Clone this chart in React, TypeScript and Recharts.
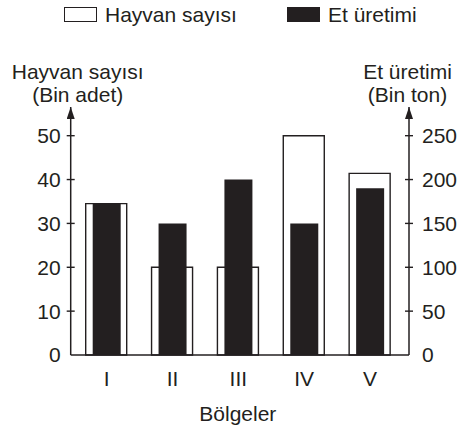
import React from "react";
import { BarChart, Bar, XAxis, YAxis } from "recharts";

const regions = ["I", "II", "III", "IV", "V"];
const hayvanSayisi = [34.5, 20, 20, 50, 41.4];
const etUretimi = [172.5, 150, 200, 150, 190];
const leftTicks = [0, 10, 20, 30, 40, 50];
const rightTicks = [0, 50, 100, 150, 200, 250];
const seriesNames = ["Hayvan sayısı", "Et üretimi"];

const INK = "#231f20";
const FONT = "'Liberation Sans', Arial, Helvetica, sans-serif";

const data = regions.map((r, i) => ({
  region: r,
  hayvan: hayvanSayisi[i],
  et: etUretimi[i],
}));

const LeftTick = ({ x, y, payload }: any) => (
  <g>
    {payload.value !== 0 && (
      <line x1={x + 6} x2={x + 14} y1={y} y2={y} stroke={INK} strokeWidth={1.4} />
    )}
    <text x={x} y={y} dy="0.355em" textAnchor="end" fontSize={21} fill={INK} fontFamily={FONT}>
      {payload.value}
    </text>
  </g>
);

const RightTick = ({ x, y, payload }: any) => (
  <g>
    {payload.value !== 0 && (
      <line x1={x - 17} x2={x - 9} y1={y} y2={y} stroke={INK} strokeWidth={1.4} />
    )}
    <text x={x} y={y} dy="0.355em" textAnchor="start" fontSize={21} fill={INK} fontFamily={FONT}>
      {payload.value}
    </text>
  </g>
);

const leftTitle = (props: any) => {
  const vb = props.viewBox;
  const cx = vb.x + vb.width + 7;
  return (
    <text textAnchor="middle" fontSize={21} fill={INK} fontFamily={FONT}>
      <tspan x={cx} y={vb.y - 28.5}>Hayvan sayısı</tspan>
      <tspan x={cx} y={vb.y - 5.5}>(Bin adet)</tspan>
    </text>
  );
};

const rightTitle = (props: any) => {
  const vb = props.viewBox;
  const cx = vb.x - 1.5;
  return (
    <text textAnchor="middle" fontSize={21} fill={INK} fontFamily={FONT}>
      <tspan x={cx} y={vb.y - 28.5}>Et üretimi</tspan>
      <tspan x={cx} y={vb.y - 5.5}>(Bin ton)</tspan>
    </text>
  );
};

const bottomTitle = (props: any) => {
  const vb = props.viewBox;
  return (
    <text x={vb.x + vb.width / 2 - 2} y={vb.y + 65.5} textAnchor="middle" fontSize={21} fill={INK} fontFamily={FONT}>
      Bölgeler
    </text>
  );
};

export default function App() {
  return (
    <div style={{ position: "absolute", left: 0, top: 0, width: 461, height: 432, background: "#fff", fontFamily: FONT }}>
      <svg width={0} height={0} style={{ position: "absolute" }}>
        <defs>
          <marker
            id="arrowUp"
            viewBox="0 0 12 8"
            refX={12}
            refY={4}
            markerWidth={12}
            markerHeight={8}
            markerUnits="userSpaceOnUse"
            orient="auto-start-reverse"
          >
            <path d="M0,0 L12,4 L0,8 Z" fill={INK} />
          </marker>
        </defs>
      </svg>

      {/* legend */}
      <div style={{ position: "absolute", left: 64, top: 7, width: 33, height: 15, boxSizing: "border-box", border: `1.4px solid ${INK}`, background: "#fff" }} />
      <div style={{ position: "absolute", left: 105, top: 3, fontSize: 21, lineHeight: "24px", color: INK }}>{seriesNames[0]}</div>
      <div style={{ position: "absolute", left: 287, top: 7, width: 33, height: 15, background: INK }} />
      <div style={{ position: "absolute", left: 328, top: 3, fontSize: 21, lineHeight: "24px", color: INK }}>{seriesNames[1]}</div>

      <BarChart width={461} height={432} data={data} margin={{ top: 107, right: 0, bottom: 0, left: 0 }}>
        <XAxis
          xAxisId="a"
          dataKey="region"
          height={77}
          padding={{ left: 3, right: 6 }}
          axisLine={{ stroke: INK, strokeWidth: 1.5 }}
          tickLine={false}
          tickSize={8}
          tickMargin={8}
          tick={{ fontSize: 21, fill: INK, fontFamily: FONT }}
          label={bottomTitle}
        />
        <XAxis xAxisId="b" dataKey="region" hide padding={{ left: 3, right: 6 }} />
        <YAxis
          yAxisId="left"
          orientation="left"
          width={70.7}
          domain={[0, 56.54]}
          ticks={leftTicks}
          axisLine={{ stroke: INK, strokeWidth: 1.5, markerStart: "url(#arrowUp)" }}
          tickLine={false}
          tickSize={4}
          tickMargin={6}
          tick={<LeftTick />}
          label={leftTitle}
        />
        <YAxis
          yAxisId="right"
          orientation="right"
          width={52}
          domain={[0, 282.7]}
          ticks={rightTicks}
          axisLine={{ stroke: INK, strokeWidth: 1.5, markerStart: "url(#arrowUp)" }}
          tickLine={false}
          tickSize={4}
          tickMargin={9}
          tick={<RightTick />}
          label={rightTitle}
        />
        <Bar
          xAxisId="a"
          yAxisId="left"
          dataKey="hayvan"
          name={seriesNames[0]}
          barSize={41}
          fill="#fff"
          stroke={INK}
          strokeWidth={1.4}
          isAnimationActive={false}
        />
        <Bar
          xAxisId="b"
          yAxisId="right"
          dataKey="et"
          name={seriesNames[1]}
          barSize={28}
          fill={INK}
          isAnimationActive={false}
        />
      </BarChart>
    </div>
  );
}
